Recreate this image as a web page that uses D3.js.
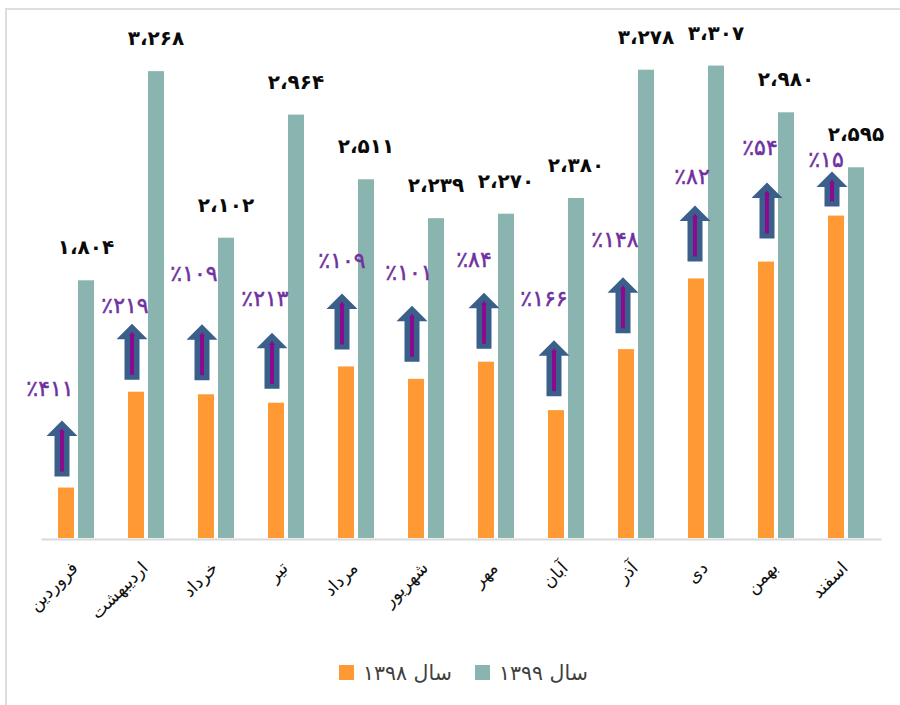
<!DOCTYPE html>
<html lang="fa">
<head>
<meta charset="utf-8">
<title>فروش ماهانه</title>
<script src="https://cdn.jsdelivr.net/npm/d3@7"></script>
<style>
  html, body { margin: 0; padding: 0; background: #fff; }
  svg { display: block; }
</style>
</head>
<body>
<div id="main_container"></div>
<script>
var months = ["فروردین", "اردیبهشت", "خرداد", "تیر", "مرداد", "شهریور", "مهر", "آبان", "آذر", "دی", "بهمن", "اسفند"];
var seriesNames = ["سال ۱۳۹۸", "سال ۱۳۹۹"];
var values1398 = [353, 1024, 1006, 947, 1201, 1114, 1234, 895, 1322, 1817, 1935, 2257];
var values1399 = [1804, 3268, 2102, 2964, 2511, 2239, 2270, 2380, 3278, 3307, 2980, 2595];
var valueLabels = ["۱،۸۰۴", "۳،۲۶۸", "۲،۱۰۲", "۲،۹۶۴", "۲،۵۱۱", "۲،۲۳۹", "۲،۲۷۰", "۲،۳۸۰", "۳،۲۷۸", "۳،۳۰۷", "۲،۹۸۰", "۲،۵۹۵"];
var growthLabels = ["٪۴۱۱", "٪۲۱۹", "٪۱۰۹", "٪۲۱۳", "٪۱۰۹", "٪۱۰۱", "٪۸۴", "٪۱۶۶", "٪۱۴۸", "٪۸۲", "٪۵۴", "٪۱۵"];

var SVG_WIDTH = 900;
var SVG_HEIGHT = 705;
var BASELINE = 538;

var color1398 = "#ff9933";
var color1399 = "#8ab4af";
var arrow_color = "#3a5f8b";
var arrow_inner_color = "#8b0a8e";
var growth_color = "#7030a0";
var frame_color = "#dedede";
var FONT = "'DejaVu Sans', sans-serif";

// Hand placement of the growth arrows and their labels, one entry per month
var arrowDx = [-4, -4, -4, -4, -4, -4, -2, -2, -3, -1, 1, -4];
var arrowGap = [11, 12, 14, 14, 17, 17, 13, 14, 16, 17, 23, 9];
var arrowLength = [56, 56, 56, 56, 56, 56, 56, 56, 56, 56, 56, 35];
var growthDx = [-26, -21, -22, -21, -14, -17, -22, -22, -21, -14, -16, -20];
var growthDy = [32, 18, 51, 34, 33, 34, 33, 42, 38, 29, 35, 12];

var svg = d3.select("#main_container").append("svg")
  .attr("width", SVG_WIDTH)
  .attr("height", SVG_HEIGHT);

var x = d3.scaleBand().domain(months).range([41, 881]);
var xInner = d3.scaleBand().domain(seriesNames).range([17, 53]).paddingInner(0.2);
var y = d3.scaleLinear().domain([0, 3500]).range([BASELINE, 38]);

// Outer frame, open on the right and bottom
svg.append("path")
  .attr("d", "M6,705V9H900")
  .attr("fill", "none")
  .attr("stroke", frame_color)
  .attr("stroke-width", 2);

function drawBars(values, name, color) {
  svg.append("g").selectAll("rect")
    .data(values)
    .enter().append("rect")
      .attr("x", function (d, i) { return x(months[i]) + xInner(name); })
      .attr("y", function (d) { return y(d); })
      .attr("width", xInner.bandwidth())
      .attr("height", function (d) { return BASELINE - y(d); })
      .attr("fill", color);
}

drawBars(values1398, seriesNames[0], color1398);
drawBars(values1399, seriesNames[1], color1399);

// Month axis with slanted labels
var axis = svg.append("g")
  .attr("transform", "translate(0," + BASELINE + ")")
  .call(d3.axisBottom(x).tickSize(0).tickSizeOuter(0));

axis.select(".domain")
  .attr("stroke", "#d9d9d9")
  .attr("stroke-width", 2)
  .attr("transform", "translate(0,1)");

axis.selectAll("text")
  .attr("font-family", FONT)
  .attr("font-size", 17.5)
  .attr("fill", "#111")
  .attr("direction", "rtl")
  .attr("text-anchor", "start")
  .attr("dy", null)
  .attr("y", 0)
  .attr("transform", "translate(3,31) rotate(-45)");

// Value labels above the 1399 bars
svg.append("g").selectAll("text")
  .data(values1399)
  .enter().append("text")
    .attr("x", function (d, i) { return x(months[i]) + xInner(seriesNames[1]) + xInner.bandwidth() / 2; })
    .attr("y", function (d) { return y(d) - 33; })
    .attr("dy", "0.35em")
    .attr("text-anchor", "middle")
    .attr("font-family", FONT)
    .attr("font-weight", "bold")
    .attr("font-size", 20)
    .attr("fill", "#0a0a0a")
    .text(function (d, i) { return valueLabels[i]; });

function arrowCenter(i) {
  return x(months[i]) + xInner(seriesNames[0]) + xInner.bandwidth() / 2 + arrowDx[i];
}

function arrowBottom(i) {
  return y(values1398[i]) - arrowGap[i];
}

function arrowTop(i) {
  return arrowBottom(i) - arrowLength[i];
}

function outerArrow(d, i) {
  var c = arrowCenter(i), b = arrowBottom(i), t = arrowTop(i);
  return "M" + c + "," + t + "L" + (c + 15.5) + "," + (t + 15.5) + "H" + (c + 7.5) + "V" + b +
    "H" + (c - 7.5) + "V" + (t + 15.5) + "H" + (c - 15.5) + "Z";
}

function innerArrow(d, i) {
  var c = arrowCenter(i), b = arrowBottom(i) - 5, t = arrowTop(i) + 8;
  return "M" + c + "," + t + "L" + (c + 3) + "," + (t + 4) + "H" + (c + 2) + "V" + b +
    "H" + (c - 2) + "V" + (t + 4) + "H" + (c - 3) + "Z";
}

var arrows = svg.append("g");

arrows.selectAll("path.outer")
  .data(values1398)
  .enter().append("path")
    .attr("class", "outer")
    .attr("d", outerArrow)
    .attr("fill", arrow_color);

arrows.selectAll("path.inner")
  .data(values1398)
  .enter().append("path")
    .attr("class", "inner")
    .attr("d", innerArrow)
    .attr("fill", arrow_inner_color);

// Growth percentages next to each arrow
svg.append("g").selectAll("text")
  .data(growthLabels)
  .enter().append("text")
    .attr("x", function (d, i) { return x(months[i]) + x.bandwidth() / 2 + growthDx[i]; })
    .attr("y", function (d, i) { return arrowTop(i) - growthDy[i]; })
    .attr("dy", "0.35em")
    .attr("text-anchor", "middle")
    .attr("font-family", FONT)
    .attr("font-size", 22)
    .attr("fill", growth_color)
    .attr("stroke", growth_color)
    .attr("stroke-width", 0.5)
    .text(function (d) { return d; });

// Legend
var legend = svg.append("g");
var legendItems = legend.selectAll("g")
  .data([
    { name: seriesNames[0], color: color1398, x: 339 },
    { name: seriesNames[1], color: color1399, x: 475 }
  ])
  .enter().append("g")
    .attr("transform", function (d) { return "translate(" + d.x + ",665)"; });

legendItems.append("rect")
  .attr("width", 15)
  .attr("height", 15)
  .attr("fill", function (d) { return d.color; });

legendItems.append("text")
  .attr("x", 24)
  .attr("y", 8)
  .attr("dy", "0.35em")
  .attr("direction", "rtl")
  .attr("text-anchor", "end")
  .attr("font-family", FONT)
  .attr("font-size", 20.5)
  .attr("fill", "#404040")
  .text(function (d) { return d.name; });
</script>
</body>
</html>
